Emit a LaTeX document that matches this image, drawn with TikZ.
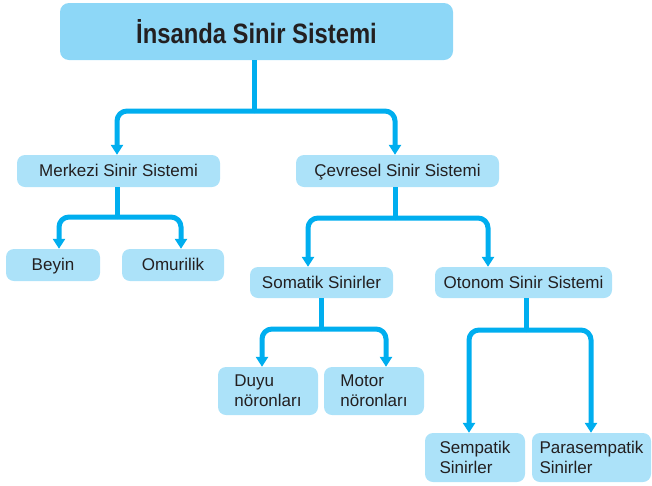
\documentclass[tikz,border=0pt]{standalone}
\usepackage{fontspec}
\setmainfont{Liberation Sans}
\newfontfamily\titlefont[FakeStretch=0.85]{Liberation Sans}
\usetikzlibrary{arrows.meta}
\definecolor{boxfill}{HTML}{ACE2F9}
\definecolor{titlefill}{HTML}{8DD7F7}
\definecolor{linec}{HTML}{00AEEF}
\definecolor{txt}{HTML}{231F20}
\tikzset{
  box/.style={fill=boxfill, rounded corners=8pt, inner sep=0pt, text=txt,
    font=\fontsize{17}{20}\selectfont, align=left},
  onebox/.style={box, text height=13.5pt, text depth=2.5pt},
  titlebox/.style={fill=titlefill, rounded corners=9pt, inner sep=0pt, text=txt,
    font=\titlefont\bfseries\fontsize{28}{32}\selectfont},
  conn/.style={draw=linec, line width=5pt, rounded corners=10pt},
  arr/.style={conn, -{Triangle[width=12pt,length=10pt]}},
}
\begin{document}
\begin{tikzpicture}[x=1pt,y=-1pt]
\useasboundingbox (0,0) rectangle (652,485);
\node[titlebox, minimum width=393pt, minimum height=57pt] (title) at (256.5,31.5) {İnsanda Sinir Sistemi};
\node[onebox, minimum width=203pt, minimum height=32pt] (merk) at (118.5,171) {Merkezi Sinir Sistemi};
\node[onebox, minimum width=203pt, minimum height=32pt] (cev) at (397.5,171) {Çevresel Sinir Sistemi};
\node[onebox, minimum width=94pt, minimum height=32pt] (beyin) at (53,265) {Beyin};
\node[onebox, minimum width=102pt, minimum height=32pt] (omur) at (173,265) {Omurilik};
\node[onebox, minimum width=143pt, minimum height=31pt] (som) at (321.5,282.5) {Somatik Sinirler};
\node[onebox, minimum width=177pt, minimum height=31pt] (oto) at (523.5,282.5) {Otonom Sinir Sistemi};
\node[box, minimum width=100pt, minimum height=48pt] (duyu) at (268,391) {Duyu\\nöronları};
\node[box, minimum width=100pt, minimum height=48pt] (motor) at (374,391) {Motor\\nöronları};
\node[box, minimum width=100pt, minimum height=49pt] (semp) at (475,457.5) {Sempatik\\Sinirler};
\node[box, minimum width=119pt, minimum height=49pt] (para) at (591.5,457.5) {Parasempatik\\Sinirler};

\coordinate (j0) at (254,111);
\coordinate (j1) at (117,217);
\coordinate (j2) at (395,218);
\coordinate (j3) at (321,329);
\coordinate (j4) at (526,330);

\draw[conn] (title.south -| j0) -- (j0);
\draw[arr] (j0) -| ([xshift=-1.5pt]merk.north);
\draw[arr] (j0) -| ([xshift=-2.5pt]cev.north);

\draw[conn] (merk.south -| j1) -- (j1);
\draw[arr] (j1) -| ([xshift=6pt]beyin.north);
\draw[arr] (j1) -| ([xshift=8pt]omur.north);

\draw[conn] (cev.south -| j2) -- (j2);
\draw[arr] (j2) -| ([xshift=-13.5pt]som.north);
\draw[arr] (j2) -| ([xshift=-35.5pt]oto.north);

\draw[conn] (som.south -| j3) -- (j3);
\draw[arr] (j3) -| ([xshift=-6pt]duyu.north);
\draw[arr] (j3) -| ([xshift=12pt]motor.north);

\draw[conn] (oto.south -| j4) -- (j4);
\draw[arr] (j4) -| ([xshift=-6pt]semp.north);
\draw[arr] (j4) -| ([xshift=-0.5pt]para.north);
\end{tikzpicture}
\end{document}
